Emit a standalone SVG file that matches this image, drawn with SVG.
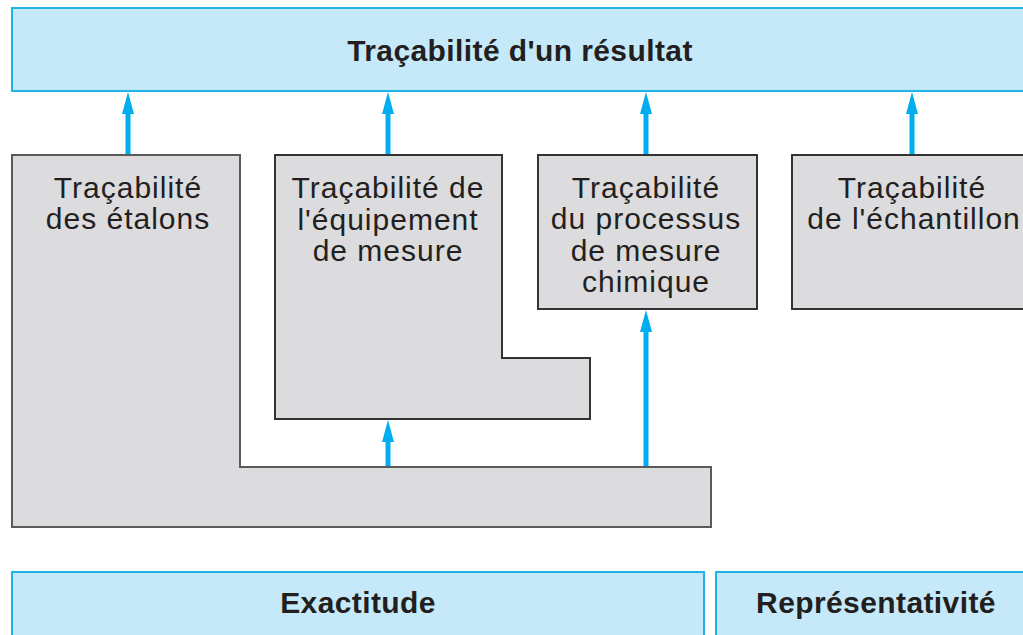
<svg xmlns="http://www.w3.org/2000/svg" width="1023" height="635" viewBox="0 0 1023 635">
<style>
.blue{fill:#c6e9f9;stroke:#1fb3ea;stroke-width:2}
.gray{fill:#dcdcde;stroke:#5a5a5a;stroke-width:2}
.gray2{fill:#dcdcde;stroke:#333;stroke-width:2}
.t{font-family:"Liberation Sans",Arial,sans-serif;font-size:30px;fill:#231f20;text-anchor:middle;letter-spacing:1px}
.b{font-family:"Liberation Sans",Arial,sans-serif;font-size:30px;font-weight:bold;fill:#231f20;text-anchor:middle;letter-spacing:0.4px}
.conn line{stroke:#00aeef;stroke-width:5}
</style>
<defs>
<marker id="ah" markerUnits="userSpaceOnUse" markerWidth="22" markerHeight="14" refX="4" refY="7" orient="auto" viewBox="0 0 22 14">
<path d="M22,7 L0,1 L0,13 Z" fill="#00aeef"/>
</marker>
</defs>
<rect width="1023" height="635" fill="#fff"/>
<g id="resultat">
<rect class="blue" x="12" y="8" width="1020" height="83"/>
<text class="b" x="520" y="61">Traçabilité d'un résultat</text>
</g>
<g id="etalons">
<path class="gray" d="M12,155 H240 V467 H711 V527 H12 Z"/>
<text class="t" x="128" y="198">Traçabilité</text>
<text class="t" x="128" y="229">des étalons</text>
</g>
<g id="equipement">
<path class="gray2" d="M275,155 H502 V358 H590 V419 H275 Z"/>
<text class="t" x="388" y="198">Traçabilité de</text>
<text class="t" x="388" y="230">l'équipement</text>
<text class="t" x="388" y="261">de mesure</text>
</g>
<g id="processus">
<rect class="gray2" x="538" y="155" width="219" height="154"/>
<text class="t" x="646" y="198">Traçabilité</text>
<text class="t" x="646" y="229">du processus</text>
<text class="t" x="646" y="261">de mesure</text>
<text class="t" x="646" y="292">chimique</text>
</g>
<g id="echantillon">
<rect class="gray2" x="792" y="155" width="240" height="154"/>
<text class="t" x="912" y="198">Traçabilité</text>
<text class="t" x="914" y="229">de l'échantillon</text>
</g>
<g id="exactitude">
<rect class="blue" x="12" y="572" width="692" height="80"/>
<text class="b" x="358" y="613">Exactitude</text>
</g>
<g id="representativite">
<rect class="blue" x="716" y="572" width="320" height="80"/>
<text class="b" x="876" y="613">Représentativité</text>
</g>
<g class="conn" id="connectors">
<line x1="128" y1="154" x2="128" y2="110"/>
<line x1="388" y1="154" x2="388" y2="110"/>
<line x1="646" y1="154" x2="646" y2="110"/>
<line x1="912" y1="154" x2="912" y2="110"/>
<line x1="388" y1="466" x2="388" y2="438"/>
<line x1="646" y1="466" x2="646" y2="328"/>
</g>
<g id="arrowheads" fill="#00aeef">
<path d="M128,92 L134,114 L122,114 Z"/>
<path d="M388,92 L394,114 L382,114 Z"/>
<path d="M646,92 L652,114 L640,114 Z"/>
<path d="M912,92 L918,114 L906,114 Z"/>
<path d="M388,420 L394,442 L382,442 Z"/>
<path d="M646,310 L652,332 L640,332 Z"/>
</g>
</svg>
